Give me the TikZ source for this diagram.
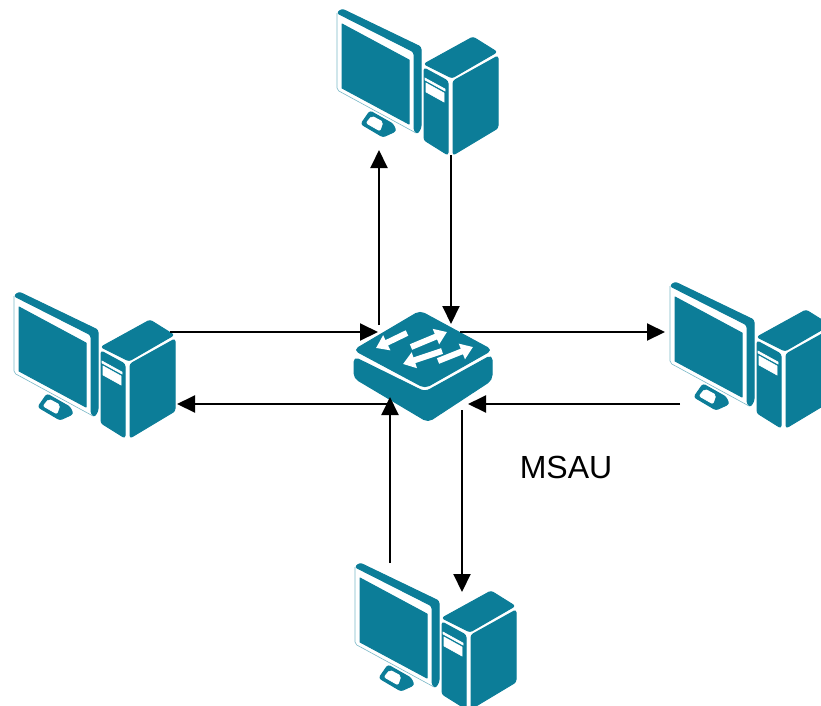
\documentclass[tikz,border=0pt]{standalone}
\usepackage{fontspec}
\setmainfont{Liberation Sans}
\usetikzlibrary{arrows.meta}
\definecolor{teal}{RGB}{12,125,152}
\tikzset{
	link/.style={draw=black, line width=2pt, -{Triangle[length=18pt,width=17pt]}},
	solid part/.style={fill=teal, draw=teal, line width=1pt, line join=round, rounded corners=2.5pt},
	white part/.style={fill=white, draw=white, line width=.6pt},
	flow/.style={draw=white, line width=6pt, -{Triangle[length=12pt,width=16pt]}},
	computer/.pic={
		% monitor
		\path[solid part] (17,13) -- (22,9) -- (101,47) -- (101,128) -- (97,134) -- (94,130) -- (94,52) -- cycle;
		\path[draw=teal!55, line width=.6pt, rounded corners=2pt] (17,13) -- (17,90) -- (96,133);
		\path[solid part, rounded corners=0pt] (22,24) -- (89,60) -- (89,124) -- (22,88) -- cycle;
		% stand
		\path[solid part] (41,124) -- (50,111) -- (73,124) -- (76,131) -- (63,137) -- cycle;
		\path[white part, rounded corners=2pt] (46,123) -- (52,116) -- (63,122) -- (60,131) -- cycle;
		% tower
		\path[solid part] (104,64) -- (153,37) -- (177,52) -- (132,78) -- cycle;
		\path[solid part] (104,68) -- (128,81) -- (128,155) -- (104,140) -- cycle;
		\path[solid part] (133,81) -- (178,56) -- (178,128) -- (133,155) -- cycle;
		\path[white part] (105,78) -- (125,89) -- (125,91) -- (105,80) -- cycle;
		\path[white part] (106,83) -- (124,93) -- (124,102) -- (106,92) -- cycle;
	},
	switch/.pic={
		\path[solid part, rounded corners=5pt] (14,47) -- (14,68) -- (88,112) -- (152,70) -- (152,45) -- (85,82) -- cycle;
		\path[solid part, rounded corners=5pt] (14,40) -- (80,1) -- (152,40) -- (85,78) -- cycle;
		\draw[flow] (67,23) -- (36,38);
		\draw[flow] (71,37) -- (107,22);
		\draw[flow] (102,41) -- (63,54);
		\draw[flow] (98,51) -- (133,37);
	}
}

\begin{document}
\begin{tikzpicture}
[x=1pt, y=-1pt]
\useasboundingbox (0,0) rectangle (821,705);

\pic at (320,0) {computer};
\pic at (-3,283) {computer};
\pic at (653,273) {computer};
\pic at (338,554) {computer};
\pic at (340,310) {switch};

\node (msau) at (566,467) {\fontsize{32}{32}\selectfont MSAU};

% ends of the links
\coordinate (topA) at (379,150);
\coordinate (topB) at (451,155);
\coordinate (swA) at (379,325);
\coordinate (swB) at (451,324);
\coordinate (leftA) at (170,332);
\coordinate (swC) at (378,332);
\coordinate (swD) at (460,332);
\coordinate (rightA) at (665,332);
\coordinate (rightB) at (680,404);
\coordinate (swE) at (468,404);
\coordinate (swF) at (388,404);
\coordinate (leftB) at (177,404);
\coordinate (botA) at (390,563);
\coordinate (swG) at (390,397);
\coordinate (swH) at (462,410);
\coordinate (botB) at (462,592);

\draw[link] (swA) -- (topA);
\draw[link] (topB) -- (swB);
\draw[link] (leftA) -- (swC);
\draw[link] (swD) -- (rightA);
\draw[link] (rightB) -- (swE);
\draw[link] (swF) -- (leftB);
\draw[link] (botA) -- (swG);
\draw[link] (swH) -- (botB);
\end{tikzpicture}
\end{document}
